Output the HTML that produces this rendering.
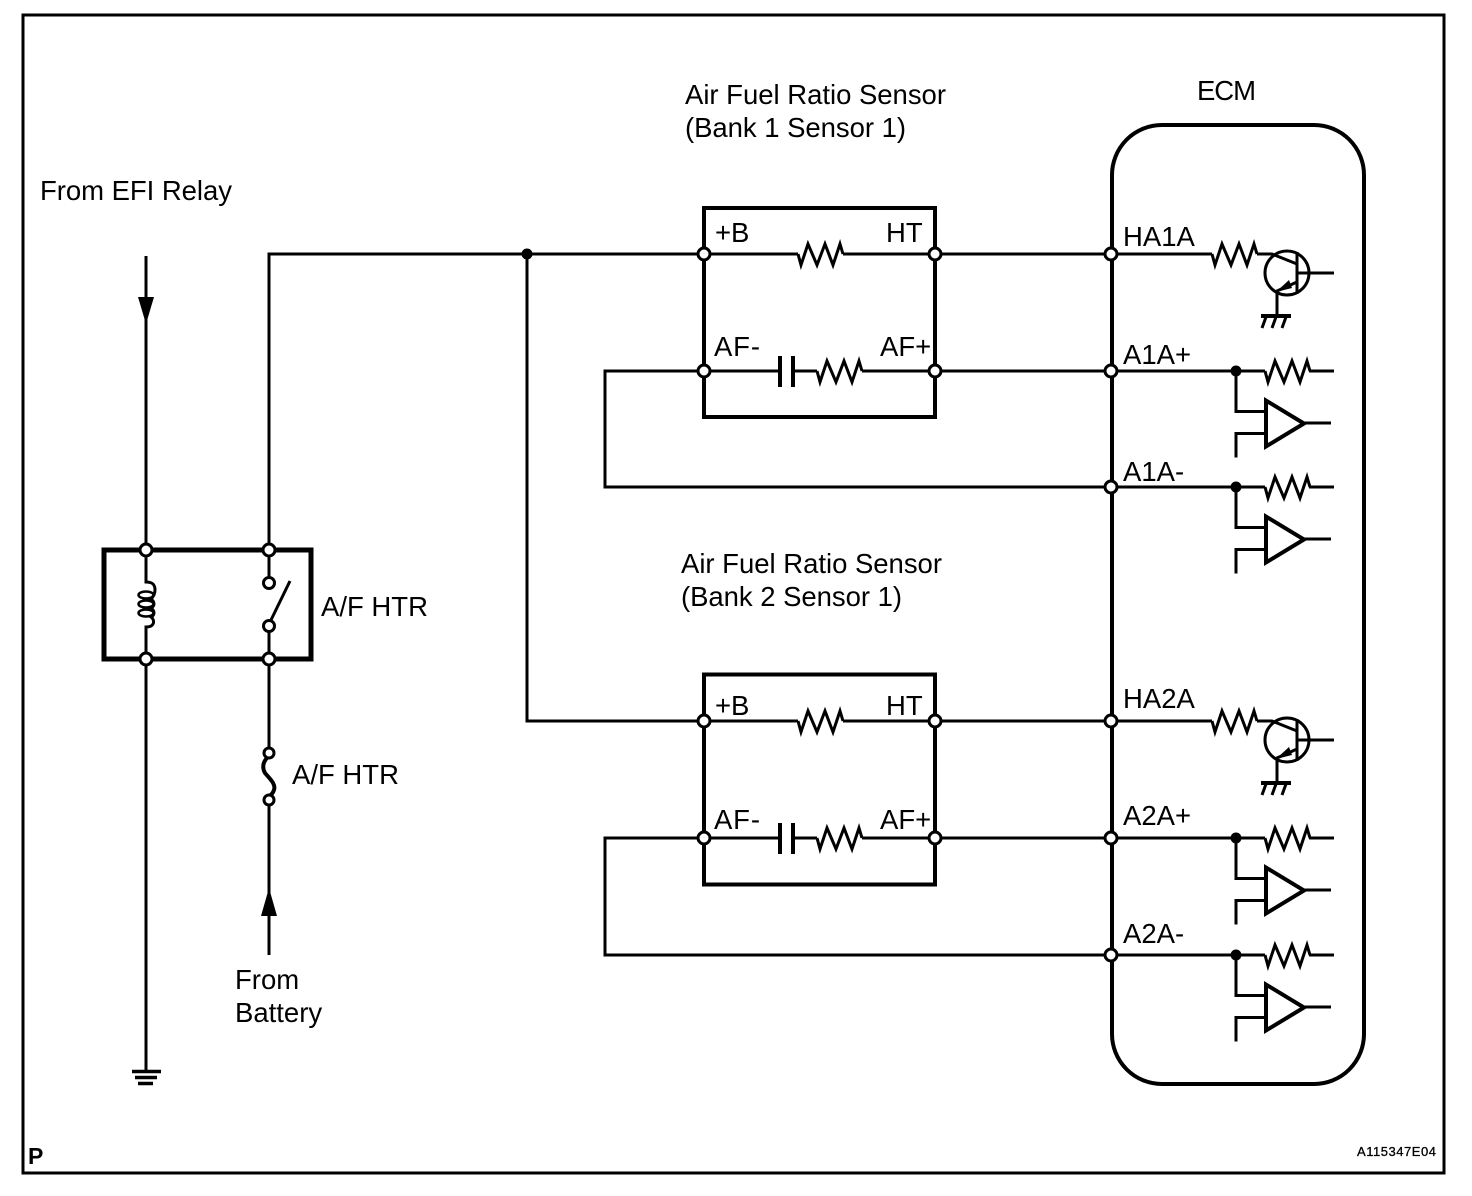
<!DOCTYPE html>
<html><head><meta charset="utf-8"><style>
html,body{margin:0;padding:0;background:#fff}
svg{display:block}
text{font-family:"Liberation Sans",sans-serif;font-size:27.5px;fill:#000}
</style></head><body>
<svg width="1472" height="1196" viewBox="0 0 1472 1196" xmlns="http://www.w3.org/2000/svg">
<defs>
<path id="res" d="M0 0l3 11 7-21 9 21 8-21 8 21 7-21 3 10" fill="none" stroke="#000" stroke-width="3"/>
<circle id="o" r="6" fill="#fff" stroke="#000" stroke-width="3"/>
<g id="tr" fill="none" stroke="#000" stroke-width="3">
<circle cx="1287" cy="273" r="22"/>
<path d="M1111 254H1212M1257 254H1272L1297 264M1297 252V294M1297 273H1334M1297 282L1277 291V315" />
<path d="M1261 316H1291" stroke-width="4"/>
<path d="M1266 317L1262 328M1276 317L1272 328M1286 317L1282 328"/>
<path d="M1276 292L1289 280L1292 288Z" fill="#000" stroke="none"/>
</g>
<g id="buf" fill="none" stroke="#000" stroke-width="3">
<path d="M1111 0H1265M1309 0H1334M1236 0V40.500H1266M1236 86.500V62.500H1266M1304 52H1331"/>
<path d="M1266 29.500V75.500L1304 52.500Z" fill="#fff" stroke-width="4"/>
<circle cx="1236" cy="0" r="5.500" fill="#000" stroke="none"/>
<use href="#res" x="1265" y="0"/>
</g>
</defs>
<rect width="1472" height="1196" fill="#fff"/>
<rect x="23" y="15" width="1421" height="1158" fill="none" stroke="#000" stroke-width="3"/>
<rect x="1112" y="125" width="252" height="959" rx="50" ry="50" fill="none" stroke="#000" stroke-width="4"/>

<g fill="none" stroke="#000" stroke-width="3" stroke-linejoin="miter">
<path d="M146 256V1071M269 550V254H704M527 254V721H704M704 371H605V487H1111M704 838H605V955H1111M269 659V753M269 800V955"/>
</g>
<circle cx="527" cy="254" r="5.5"/>
<path d="M138 297H154L146 324Z"/>
<path d="M261 916H277L269 888Z"/>
<path d="M132 1071.500H161M135 1077.500H157M138 1083.500H153" stroke="#000" fill="none" stroke-width="3.500"/>

<rect x="104" y="550" width="207" height="109" fill="#fff" stroke="#000" stroke-width="5"/>
<g fill="none" stroke="#000" stroke-width="3">
<path d="M146 550V582C152 582 155 584 155 590C155 594 153 597 151 599C155 602 155 606 151 608C155 611 155 615 151 617C155 620 155 627 146 627V659"/>
<ellipse cx="146" cy="595" rx="7.500" ry="3.500" stroke-width="2.500"/>
<ellipse cx="146" cy="604" rx="7.500" ry="3.500" stroke-width="2.500"/>
<ellipse cx="146" cy="613" rx="7.500" ry="3.500" stroke-width="2.500"/>
<path d="M269 550V577M269 632V659M271 620L290 581" />
<circle cx="269" cy="583" r="5.5" fill="#fff"/><circle cx="269" cy="626" r="5.5" fill="#fff"/>
<path d="M267 758C263 762 262 768 265 773C270 779 276 784 274 790C273 793 271 795 269 796" stroke-width="4"/>
<circle cx="269" cy="753" r="5" fill="#fff"/><circle cx="269" cy="800" r="5" fill="#fff"/>
</g>
<use href="#o" x="146" y="550"/><use href="#o" x="269" y="550"/>
<use href="#o" x="146" y="659"/><use href="#o" x="269" y="659"/>

<g>
<rect x="704" y="208" width="231" height="209" fill="none" stroke="#000" stroke-width="4"/>
<path d="M704 254H798M843 254H1111M704 371H779M793 371H817M862 371H1111" fill="none" stroke="#000" stroke-width="3"/>
<path d="M780 356V387M793 356V387" fill="none" stroke="#000" stroke-width="4"/>
<use href="#res" x="798" y="254"/>
<use href="#res" x="817" y="371"/>
<use href="#o" x="704" y="254"/><use href="#o" x="935" y="254"/>
<use href="#o" x="704" y="371"/><use href="#o" x="935" y="371"/>
</g>
<g transform="translate(0,467)">
<rect x="704" y="207.500" width="231" height="210" fill="none" stroke="#000" stroke-width="4"/>
<path d="M704 254H798M843 254H1111M704 371H779M793 371H817M862 371H1111" fill="none" stroke="#000" stroke-width="3"/>
<path d="M780 356V387M793 356V387" fill="none" stroke="#000" stroke-width="4"/>
<use href="#res" x="798" y="254"/>
<use href="#res" x="817" y="371"/>
<use href="#o" x="704" y="254"/><use href="#o" x="935" y="254"/>
<use href="#o" x="704" y="371"/><use href="#o" x="935" y="371"/>
</g>

<use href="#tr"/>
<use href="#res" x="1212" y="254"/>
<use href="#buf" y="371"/>
<use href="#buf" y="487"/>
<use href="#tr" y="467"/>
<use href="#res" x="1212" y="721"/>
<use href="#buf" y="838"/>
<use href="#buf" y="955"/>
<use href="#o" x="1111" y="254"/><use href="#o" x="1111" y="371"/><use href="#o" x="1111" y="487"/>
<use href="#o" x="1111" y="721"/><use href="#o" x="1111" y="838"/><use href="#o" x="1111" y="955"/>

<text x="40" y="200" textLength="192">From EFI Relay</text>
<text x="685" y="104" textLength="261">Air Fuel Ratio Sensor</text>
<text x="685" y="137" textLength="221">(Bank 1 Sensor 1)</text>
<text x="1197" y="100" textLength="59">ECM</text>
<text x="681" y="573" textLength="261">Air Fuel Ratio Sensor</text>
<text x="681" y="606" textLength="221">(Bank 2 Sensor 1)</text>
<text x="321" y="616">A/F HTR</text>
<text x="292" y="784">A/F HTR</text>
<text x="235" y="989">From</text>
<text x="235" y="1022">Battery</text>
<text x="715" y="242">+B</text><text x="886" y="242">HT</text>
<text x="714" y="356" textLength="46">AF-</text><text x="880" y="356">AF+</text>
<text x="715" y="715">+B</text><text x="886" y="715">HT</text>
<text x="714" y="829" textLength="46">AF-</text><text x="880" y="829">AF+</text>
<text x="1123" y="246">HA1A</text><text x="1123" y="364">A1A+</text><text x="1123" y="481">A1A-</text>
<text x="1123" y="708">HA2A</text><text x="1123" y="825">A2A+</text><text x="1123" y="943">A2A-</text>
<text x="28" y="1164" style="font-size:23px;font-weight:bold">P</text>
<text x="1357" y="1156" style="font-size:13px;stroke:#000;stroke-width:.3" textLength="79">A115347E04</text>
</svg>
</body></html>
